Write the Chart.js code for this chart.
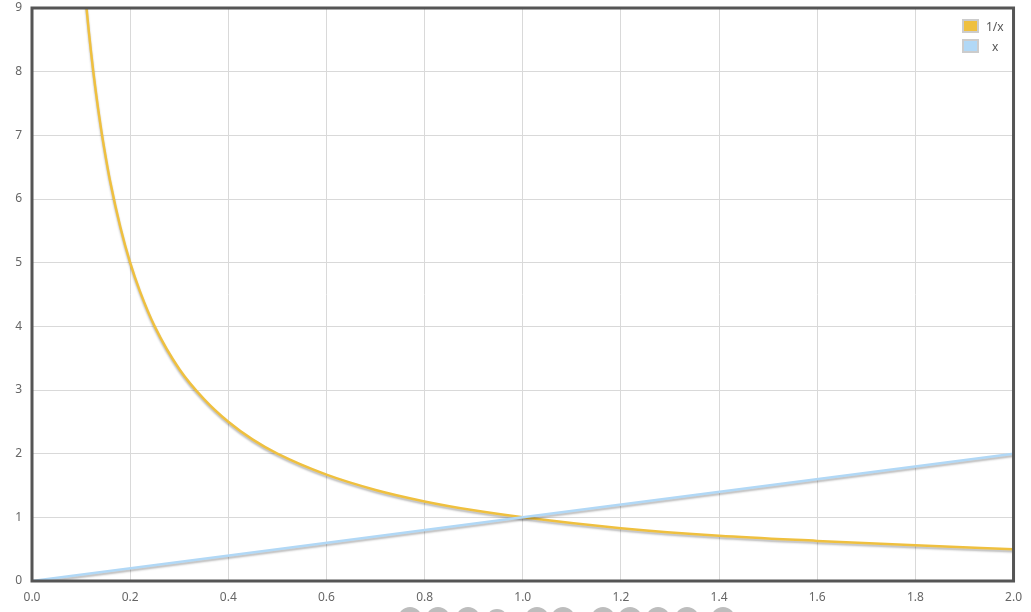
<!DOCTYPE html>
<html>
<head>
<meta charset="utf-8">
<script src="https://cdn.jsdelivr.net/npm/chart.js@4.4.1/dist/chart.umd.min.js"></script>
<style>
    body { margin: 0; background: #fff; overflow: hidden; }
    #wrap { position: relative; width: 1031px; height: 612px; }
    #legend { position: absolute; left: 962px; top: 16px; font: 12px "Noto Sans", sans-serif; color: #555; }
    .item { display: flex; align-items: center; height: 20px; }
    .box { width: 13px; height: 10px; border: 2px solid #ccc; margin-right: 7px; }
    .dot { position: absolute; top: 607px; width: 24px; height: 24px; border-radius: 50%; background: #bdbdbd; }
</style>
</head>
<body>
<div id="wrap">
    <canvas id="chart" width="1031" height="612"></canvas>
    <div id="legend"></div>
</div>
<script>
const xInv = [0.1, 0.11, 0.12, 0.13, 0.14, 0.15, 0.16, 0.18, 0.2, 0.22, 0.25, 0.3, 0.35, 0.4, 0.45, 0.5, 0.6, 0.7, 0.8, 0.9, 1.0, 1.2, 1.4, 1.6, 1.8, 2.0];
const yInv = [10, 9.09, 8.33, 7.69, 7.14, 6.67, 6.25, 5.56, 5, 4.55, 4, 3.33, 2.86, 2.5, 2.22, 2, 1.67, 1.43, 1.25, 1.11, 1, 0.83, 0.71, 0.63, 0.56, 0.5];
const xLin = [0, 0.5, 1, 1.5, 2];
const yLin = [0, 0.5, 1, 1.5, 2];

const seriesNames = ["1/x", "x"];
const seriesColors = ["#efc03f", "#b1d8f6"];

// grey round buttons peeking in under the chart
const dotLeft = [398, 426, 456, 486, 525, 551, 591, 618, 646, 675, 711];
dotLeft.forEach((left, i) => {
    const d = document.createElement("div");
    d.className = "dot";
    d.style.left = left + "px";
    if (i === 3) {
        d.style.top = "609px";
        d.style.width = "22px";
        d.style.height = "22px";
    }
    document.body.querySelector("#wrap").appendChild(d);
});

const legend = document.getElementById("legend");
seriesNames.forEach((name, i) => {
    legend.innerHTML += `<div class="item"><span class="box" style="background:${seriesColors[i]}"></span><span style="${i === 1 ? "margin-left:6px" : ""}">${name}</span></div>`;
});

const shadowPlugin = {
    id: "shadow",
    beforeDatasetDraw(chart) {
        const ctx = chart.ctx;
        ctx.save();
        ctx.shadowColor = "rgba(0,0,0,0.28)";
        ctx.shadowBlur = 2;
        ctx.shadowOffsetY = 2;
    },
    afterDatasetDraw(chart) {
        chart.ctx.restore();
    }
};

const framePlugin = {
    id: "frame",
    afterDraw(chart) {
        const a = chart.chartArea;
        const ctx = chart.ctx;
        ctx.save();
        ctx.strokeStyle = "#555";
        ctx.lineWidth = 3;
        ctx.strokeRect(a.left, a.top, a.right - a.left, a.bottom - a.top);
        ctx.restore();
    }
};

const tickFont = { family: "Noto Sans", size: 12 };

new Chart(document.getElementById("chart"), {
    type: "scatter",
    data: {
        datasets: [
            {
                label: seriesNames[0],
                data: xInv.map((x, i) => ({ x: x, y: yInv[i] })),
                borderColor: seriesColors[0],
                borderWidth: 2.5,
                showLine: true,
                pointRadius: 0,
                cubicInterpolationMode: "monotone",
                order: 1
            },
            {
                label: seriesNames[1],
                data: xLin.map((x, i) => ({ x: x, y: yLin[i] })),
                borderColor: seriesColors[1],
                borderWidth: 2.5,
                showLine: true,
                pointRadius: 0,
                order: 0
            }
        ]
    },
    options: {
        responsive: false,
        animation: false,
        layout: { padding: { top: 8, right: 17, left: 0, bottom: 0 } },
        plugins: {
            legend: { display: false },
            tooltip: { enabled: false }
        },
        scales: {
            x: {
                type: "linear",
                min: 0,
                max: 2,
                afterFit: (s) => { s.height = 31; s.paddingTop = 0; },
                grid: { color: "#d9d9d9", drawTicks: false },
                border: { display: false },
                ticks: {
                    stepSize: 0.2,
                    padding: 9,
                    color: "#666",
                    font: tickFont,
                    callback: (v) => v.toFixed(1)
                }
            },
            y: {
                min: 0,
                max: 9,
                afterFit: (s) => { s.width = 32; s.paddingTop = 0; },
                grid: { color: "#d9d9d9", drawTicks: false },
                border: { display: false },
                ticks: {
                    stepSize: 1,
                    padding: 10,
                    color: "#666",
                    font: tickFont
                }
            }
        }
    },
    plugins: [shadowPlugin, framePlugin]
});
</script>
</body>
</html>
